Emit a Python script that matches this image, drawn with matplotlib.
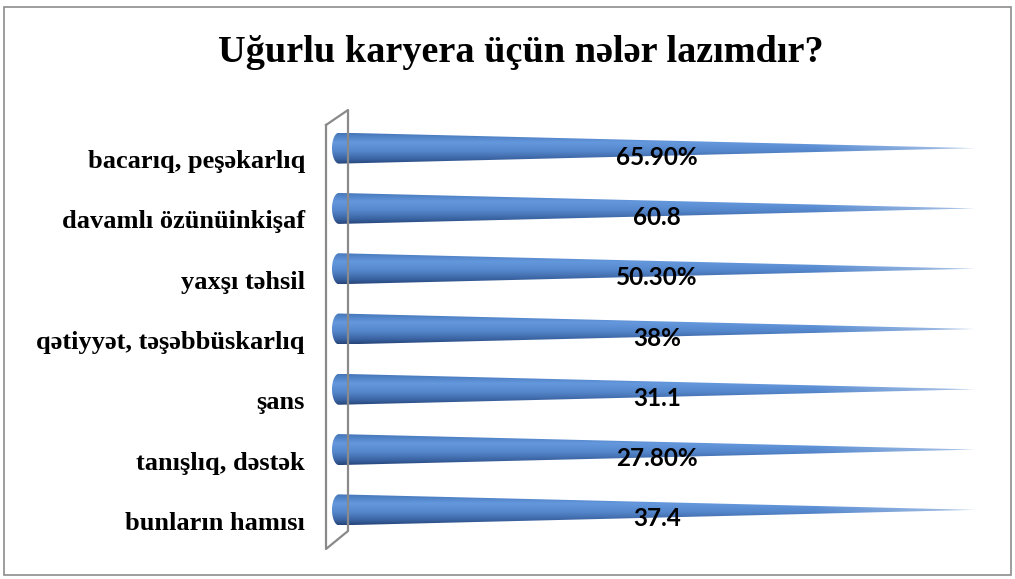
import numpy as np
import pandas as pd
import matplotlib
matplotlib.use("Agg")
import matplotlib.pyplot as plt
from matplotlib.patches import Polygon, Rectangle
from matplotlib.lines import Line2D
from matplotlib.colors import LinearSegmentedColormap
from matplotlib.transforms import ScaledTranslation

# ---- data (top to bottom as shown) ----
categories = ["bacarıq, peşəkarlıq", "davamlı özünüinkişaf", "yaxşı təhsil",
              "qətiyyət, təşəbbüskarlıq", "şans", "tanışlıq, dəstək",
              "bunların hamısı"]
values = [65.9, 60.8, 50.3, 38.0, 31.1, 27.8, 37.4]
value_labels = ["65.90%", "60.8", "50.30%", "38%", "31.1", "27.80%", "37.4"]
title = "Uğurlu karyera üçün nələr lazımdır?"

df = pd.DataFrame({"cat": categories, "value": values, "label": value_labels})
# single-series 100% stacked bar: every bar fills its category
df["share"] = df["value"] / df["value"] * 100.0
n = len(df)
df["y"] = n - 1 - np.arange(n)

W, H = 1015, 579
fig = plt.figure(figsize=(W / 100, H / 100), dpi=100)
fig.patch.set_facecolor("white")

# outer chart border
fig.add_artist(Rectangle((4 / W, 1 - 575 / H), (1011 - 4) / W, (575 - 7) / H,
                         transform=fig.transFigure, fill=False,
                         edgecolor="#8c8c8c", linewidth=1.2))

a_px = 7.0
x0_px, x1_px = 339, 975
top_px, bot_px = 118, 540
px_per_x = (x1_px - x0_px) / 100.0
a = a_px / px_per_x
ax = fig.add_axes([(x0_px - a_px) / W, 1 - bot_px / H, (x1_px - x0_px + a_px) / W,
                   (bot_px - top_px) / H])
ax.set_facecolor("none")

# back wall (3D style)
wall = [(326, 125), (348, 110), (348, 531), (326, 549), (326, 125)]
fig.add_artist(Line2D([p[0] / W for p in wall], [1 - p[1] / H for p in wall],
                      transform=fig.transFigure, color="#8a8a8a", linewidth=1.6))

# cone gradient
stops = [(0.0, "#4576ba"), (0.3, "#6498dc"), (0.58, "#5587cc"),
         (0.85, "#3a63a1"), (1.0, "#26457a")]
cmap = LinearSegmentedColormap.from_list("cone", stops)

b = 15.5 / ((bot_px - top_px) / n)

ny, nx = 64, 400
grad = cmap(np.linspace(0, 1, ny))[:, None, :3]
for _, r in df.iterrows():
    yc, L = r["y"], r["share"]
    th = np.linspace(np.pi / 2, 3 * np.pi / 2, 40)
    poly_pts = [(a * np.cos(t), yc + b * np.sin(t)) for t in th] + [(L, yc)]
    poly = Polygon(poly_pts, closed=True, transform=ax.transData,
                   facecolor="none", edgecolor="none")
    ax.add_patch(poly)
    xs = np.linspace(-a, L, nx)
    img = np.ones((ny, nx, 4))
    img[:, :, :3] = grad
    # lighten toward tip
    f = np.clip((xs - 0.75 * L) / (0.25 * L), 0, 1)[None, :, None]
    img[:, :, :3] = img[:, :, :3] * (1 - 0.5 * f) + 0.5 * f
    im = ax.imshow(img, extent=(-a, L, yc - b, yc + b), origin="upper",
                   aspect="auto", interpolation="bilinear", zorder=2)
    im.set_clip_path(poly)
    ax.text(L / 2, yc, r["label"], ha="center", va="center", fontsize=17.5,
            fontweight="bold", family=["Lato", "DejaVu Sans"], color="black",
            zorder=5,
            transform=ax.transData + ScaledTranslation(0, -9 / 100, fig.dpi_scale_trans))

ax.set_xlim(-a, 100)
ax.set_ylim(-0.5, n - 0.5)
ax.set_yticks(df["y"])
ax.set_yticklabels(df["cat"], fontsize=19, fontweight="bold",
                   family=["Liberation Serif", "DejaVu Serif"])
ax.tick_params(axis="y", length=0, pad=(x0_px - a_px - 305) * 0.72)
for lab in ax.get_yticklabels():
    lab.set_transform(lab.get_transform() + ScaledTranslation(0, -11 / 100, fig.dpi_scale_trans))
ax.set_xticks([])
for s in ax.spines.values():
    s.set_visible(False)

fig.text(521 / W, 1 - 52 / H, title, ha="center", va="center", fontsize=27.5,
         fontweight="bold", family=["Liberation Serif", "DejaVu Serif"])

fig.savefig("out.png", dpi=100)
